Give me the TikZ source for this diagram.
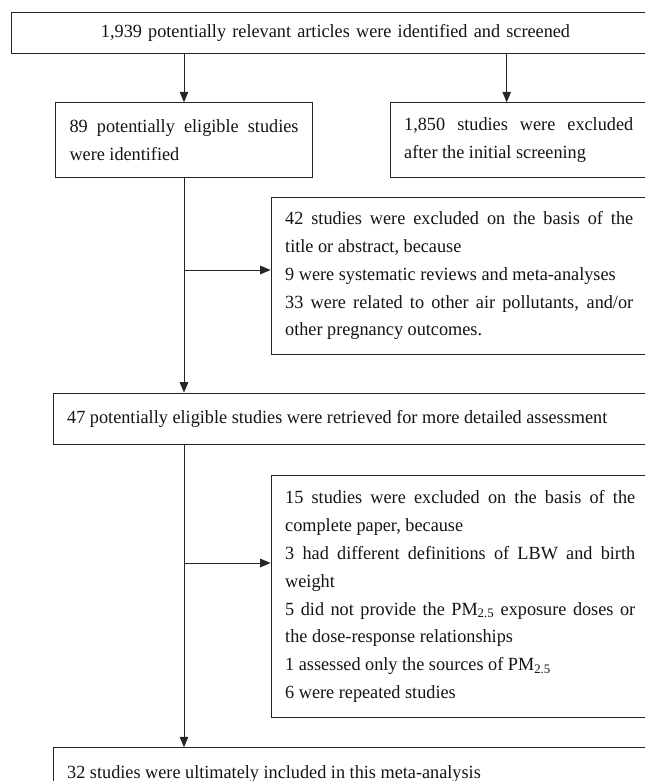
\documentclass[tikz,border=0pt]{standalone}
\usepackage{fontspec}
\setmainfont[FakeStretch=0.98]{Liberation Serif}
\usetikzlibrary{arrows.meta}
\setlength{\parindent}{0pt}
\hbadness=10000
\begin{document}
\begin{tikzpicture}[x=1pt,y=-1pt,
  box/.style={draw=black!85, line width=1pt, anchor=north west, inner xsep=14pt, inner ysep=0pt,
    font=\fontsize{18.6}{27.8}\selectfont, text=black!92},
  jbox/.style={box, align=justify},
  arr/.style={draw=black!85, line width=1pt, -{Triangle[length=10.5pt,width=8.5pt]}}]
\useasboundingbox (0,0) rectangle (645,781);
\clip (0,0) rectangle (645,781);

\node[box, minimum width=648, minimum height=41.6, text width=620, align=center] (top) at (11,11.7)
  {1,939 potentially relevant articles were identified and screened};

\node[jbox, minimum height=75, text width=229] (b89) at (55,102.3)
  {89 potentially eligible studies\linebreak were identified};

\node[jbox, minimum height=75, text width=229] (b1850) at (389.7,102.3)
  {1,850 studies were excluded\linebreak after the initial screening};

\node[jbox, minimum height=157.3, text width=348] (b42) at (270.7,196.7)
  {42 studies were excluded on the basis of the\linebreak title or abstract, because\par
   9 were systematic reviews and meta-analyses\par
   33 were related to other air pollutants, and/or\linebreak other pregnancy outcomes.};

\node[jbox, minimum height=51.6, text width=567] (b47) at (52.7,392.7)
  {47 potentially eligible studies were retrieved for more detailed assessment};

\node[jbox, minimum height=242.3, text width=350] (b15) at (270.7,475)
  {15 studies were excluded on the basis of the\linebreak complete paper, because\par
   3 had different definitions of LBW and birth\linebreak weight\par
   5 did not provide the PM\textsubscript{2.5} exposure doses or\linebreak the dose-response relationships\par
   1 assessed only the sources of PM\textsubscript{2.5}\par
   6 were repeated studies};

\node[jbox, minimum height=51.6, text width=567] (b32) at (52.7,747.3)
  {32 studies were ultimately included in this meta-analysis};

\draw[arr] (b89.north |- top.south) -- (b89.north);
\draw[arr] ([xshift=-12pt]b1850.north |- top.south) -- ([xshift=-12pt]b1850.north);
\draw[arr] (b89.south) -- (b89.south |- b47.north);
\draw[arr] (b89.south |- 0,270) -- (b42.west |- 0,270);
\draw[arr] (b89.south |- b47.south) -- (b89.south |- b32.north);
\draw[arr] (b89.south |- 0,563) -- (b15.west |- 0,563);
\end{tikzpicture}
\end{document}
